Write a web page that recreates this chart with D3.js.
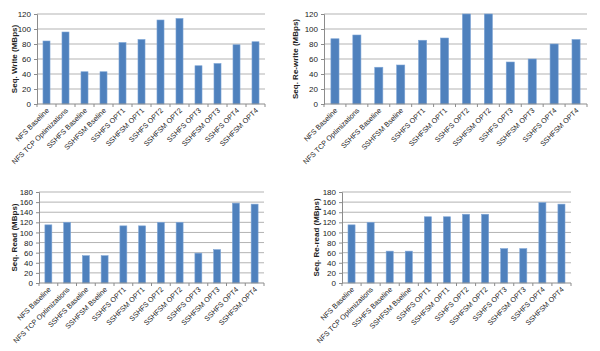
<!DOCTYPE html>
<html>
<head>
<meta charset="utf-8">
<script src="https://cdn.jsdelivr.net/npm/d3@7"></script>
<style>
  body { margin: 0; background: #fff; }
  svg { display: block; font-family: "Liberation Sans", Arial, sans-serif; }
</style>
</head>
<body>
<div id="chart"></div>
<script>
const categories = ["NFS Baseline", "NFS TCP Optimizations", "SSHFS Baseline", "SSHFSM Bseline",
  "SSHFS OPT1", "SSHFSM OPT1", "SSHFS OPT2", "SSHFSM OPT2",
  "SSHFS OPT3", "SSHFSM OPT3", "SSHFS OPT4", "SSHFSM OPT4"];

const seqWrite   = [84, 96, 43, 43, 82, 86, 112, 114, 51, 54, 79, 83];
const seqRewrite = [87, 92, 49, 52, 85, 88, 120, 120, 56, 60, 80, 86];
const seqRead    = [115, 120, 54, 54, 113, 113, 120, 120, 59, 66, 158, 156];
const seqReread  = [115, 120, 63, 63, 131, 131, 136, 136, 68, 68, 159, 156];

const ticksTop = [0, 20, 40, 60, 80, 100, 120];
const ticksBottom = [0, 20, 40, 60, 80, 100, 120, 140, 160, 180];

const svg = d3.select("#chart").append("svg")
    .attr("width", 600)
    .attr("height", 351);

// panel layout: plot area box and y title position
const panels = [
  {values: seqWrite, title: "Seq. Write (MBps)", ticks: ticksTop, max: 120,
   x0: 37, x1: 265, y0: 14, y1: 104, tx: 14},
  {values: seqRewrite, title: "Seq. Re-write (MBps)", ticks: ticksTop, max: 120,
   x0: 324, x1: 587, y0: 14, y1: 104, tx: 295},
  {values: seqRead, title: "Seq. Read (MBps)", ticks: ticksBottom, max: 180,
   x0: 39, x1: 264, y0: 192, y1: 283, tx: 14},
  {values: seqReread, title: "Seq. Re-read (MBps)", ticks: ticksBottom, max: 180,
   x0: 342, x1: 571, y0: 192, y1: 283, tx: 316}
];

panels.forEach(p => drawPanel(p));

function drawPanel(p) {
  const g = svg.append("g");

  const x = d3.scaleBand()
      .domain(categories)
      .range([p.x0, p.x1])
      .paddingInner(0.63)
      .paddingOuter(0.315);

  const y = d3.scaleLinear()
      .domain([0, p.max])
      .range([p.y1, p.y0]);

  // gridlines
  g.selectAll("line.grid")
      .data(p.ticks.filter(t => t > 0))
      .enter()
      .append("line")
      .attr("x1", p.x0)
      .attr("x2", p.x1)
      .attr("y1", d => y(d))
      .attr("y2", d => y(d))
      .attr("stroke", "#b3b3b3")
      .attr("stroke-width", 1);

  // bars
  g.selectAll("rect")
      .data(p.values)
      .enter()
      .append("rect")
      .attr("x", (d, i) => x(categories[i]))
      .attr("y", d => y(d))
      .attr("width", x.bandwidth())
      .attr("height", d => y(0) - y(d))
      .attr("fill", "#4f81bd")
      .attr("stroke", "#7ea5d6")
      .attr("stroke-width", 0.6);

  // y axis
  const yAxis = d3.axisLeft(y)
      .tickValues(p.ticks)
      .tickSize(3)
      .tickPadding(3);
  const ya = g.append("g")
      .attr("transform", `translate(${p.x0},0)`)
      .call(yAxis);
  ya.select(".domain").attr("stroke", "#8c8c8c");
  ya.selectAll(".tick line").attr("stroke", "#8c8c8c");
  ya.selectAll(".tick text")
      .attr("font-size", 8)
      .attr("fill", "#222")
      .attr("font-family", "Liberation Sans, Arial, sans-serif");

  // x axis with tick marks between categories
  const step = x.step();
  const xa = g.append("g");
  xa.append("line")
      .attr("x1", p.x0).attr("x2", p.x1)
      .attr("y1", p.y1).attr("y2", p.y1)
      .attr("stroke", "#8c8c8c");
  xa.selectAll("line.tk")
      .data(d3.range(categories.length + 1))
      .enter()
      .append("line")
      .attr("x1", i => p.x0 + i * (p.x1 - p.x0) / categories.length)
      .attr("x2", i => p.x0 + i * (p.x1 - p.x0) / categories.length)
      .attr("y1", p.y1)
      .attr("y2", p.y1 + 3)
      .attr("stroke", "#8c8c8c");

  xa.selectAll("text")
      .data(categories)
      .enter()
      .append("text")
      .attr("transform", d => `translate(${x(d) + x.bandwidth() / 2 + 3},${p.y1 + 7}) rotate(-45)`)
      .attr("text-anchor", "end")
      .attr("font-size", 7.2)
      .attr("fill", "#222")
      .text(d => d);

  // y title
  g.append("text")
      .attr("transform", `translate(${p.tx},${(p.y0 + p.y1) / 2}) rotate(-90)`)
      .attr("text-anchor", "middle")
      .attr("dy", "0.35em")
      .attr("font-size", 8)
      .attr("font-weight", "bold")
      .attr("fill", "#222")
      .text(p.title);
}
</script>
</body>
</html>
